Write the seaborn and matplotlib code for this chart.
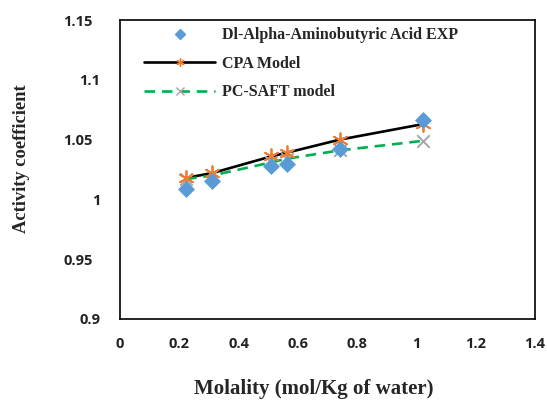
import matplotlib
matplotlib.use("Agg")
import matplotlib.pyplot as plt
from matplotlib.lines import Line2D
from matplotlib.transforms import ScaledTranslation
import seaborn as sns
import pandas as pd

molality = [0.223, 0.311, 0.511, 0.562, 0.742, 1.023]
exp_gamma = [1.009, 1.015, 1.028, 1.030, 1.042, 1.066]
cpa_gamma = [1.018, 1.022, 1.036, 1.039, 1.050, 1.063]
pcsaft_gamma = [1.017, 1.020, 1.031, 1.034, 1.041, 1.049]

x_ticks = [0, 0.2, 0.4, 0.6, 0.8, 1.0, 1.2, 1.4]
x_tick_labels = ["0", "0.2", "0.4", "0.6", "0.8", "1", "1.2", "1.4"]
y_ticks = [0.9, 0.95, 1.0, 1.05, 1.1, 1.15]
y_tick_labels = ["0.9", "0.95", "1", "1.05", "1.1", "1.15"]

df = pd.DataFrame({"m": molality, "exp": exp_gamma, "cpa": cpa_gamma, "pcsaft": pcsaft_gamma})

sns.set_theme(style="white")
plt.rcParams["font.family"] = ["DejaVu Sans"]

fig = plt.figure(figsize=(5.47, 4.05), dpi=100)
ax = fig.add_axes([120/547, 1-319/405, (535-120)/547, (319-20)/405])

blue = "#5B9BD5"
orange = "#ED7D31"
gray = "#A5A5A5"
green = "#00B050"
star = (6, 2, 0)

sns.lineplot(data=df, x="m", y="cpa", ax=ax, color="black", linewidth=1.9, zorder=2)
sns.lineplot(data=df, x="m", y="pcsaft", ax=ax, color=green, linewidth=1.9, zorder=2,
             dashes=False, linestyle=(0, (4, 2.6)))
sns.scatterplot(data=df, x="m", y="pcsaft", ax=ax, marker="x", s=80, color=gray,
                linewidth=1.4, zorder=3)
sns.scatterplot(data=df, x="m", y="cpa", ax=ax, marker=star, s=110, color=orange,
                edgecolor=orange, linewidth=1.3, zorder=4)
sns.scatterplot(data=df, x="m", y="exp", ax=ax, marker="D", s=75, color=blue,
                edgecolor=blue, linewidth=0, zorder=5)

ax.set_xlim(0, 1.4)
ax.set_ylim(0.9, 1.15)
ax.set_xticks(x_ticks)
ax.set_xticklabels(x_tick_labels)
ax.set_yticks(y_ticks)
ax.set_yticklabels(y_tick_labels)
ax.tick_params(axis="both", length=0, labelsize=10.5)
ax.tick_params(axis="y", pad=14)
ax.tick_params(axis="x", pad=13)
for lab in ax.get_xticklabels() + ax.get_yticklabels():
    lab.set_fontweight("bold")
    lab.set_family(["Open Sans", "DejaVu Sans"])
    lab.set_color("#222222")
for lab in ax.get_yticklabels():
    if len(lab.get_text()) == 4:
        lab.set_transform(lab.get_transform() + ScaledTranslation(-8/100, 0, fig.dpi_scale_trans))

for sp in ax.spines.values():
    sp.set_visible(True)
    sp.set_color("black")
    sp.set_linewidth(1.2)

ax.set_xlabel("")
ax.set_ylabel("")
fig.text(314/547, 1-389/405, "Molality (mol/Kg of water)", ha="center", va="center",
         fontsize=15, fontweight="bold", family=["Liberation Serif"])
fig.text(22/547, 1-159/405, "Activity coefficient", ha="center", va="center", rotation=90,
         fontsize=13.3, fontweight="bold", family=["Liberation Serif"])

handles = [
    Line2D([], [], color=blue, marker="D", linestyle="none", markersize=5),
    Line2D([], [], color="black", linewidth=1.9, marker=star, markersize=6,
           markeredgecolor=orange, markerfacecolor=orange, markeredgewidth=1.0),
    Line2D([], [], color=green, linewidth=1.9, linestyle=(0, (4, 2.6)), marker="x",
           markersize=6, markeredgecolor=gray, markeredgewidth=1.0),
]
labels = ["Dl-Alpha-Aminobutyric Acid EXP", "CPA Model", "PC-SAFT model"]
ax.legend(handles, labels, loc="upper left", bbox_to_anchor=(14/415, 1.008), frameon=False,
          handlelength=4.5, handletextpad=0.4, labelspacing=0.78, borderaxespad=0.2,
          prop={"family": "Liberation Serif", "weight": "bold", "size": 11.5})

fig.savefig("out.png", dpi=100, facecolor="white")
